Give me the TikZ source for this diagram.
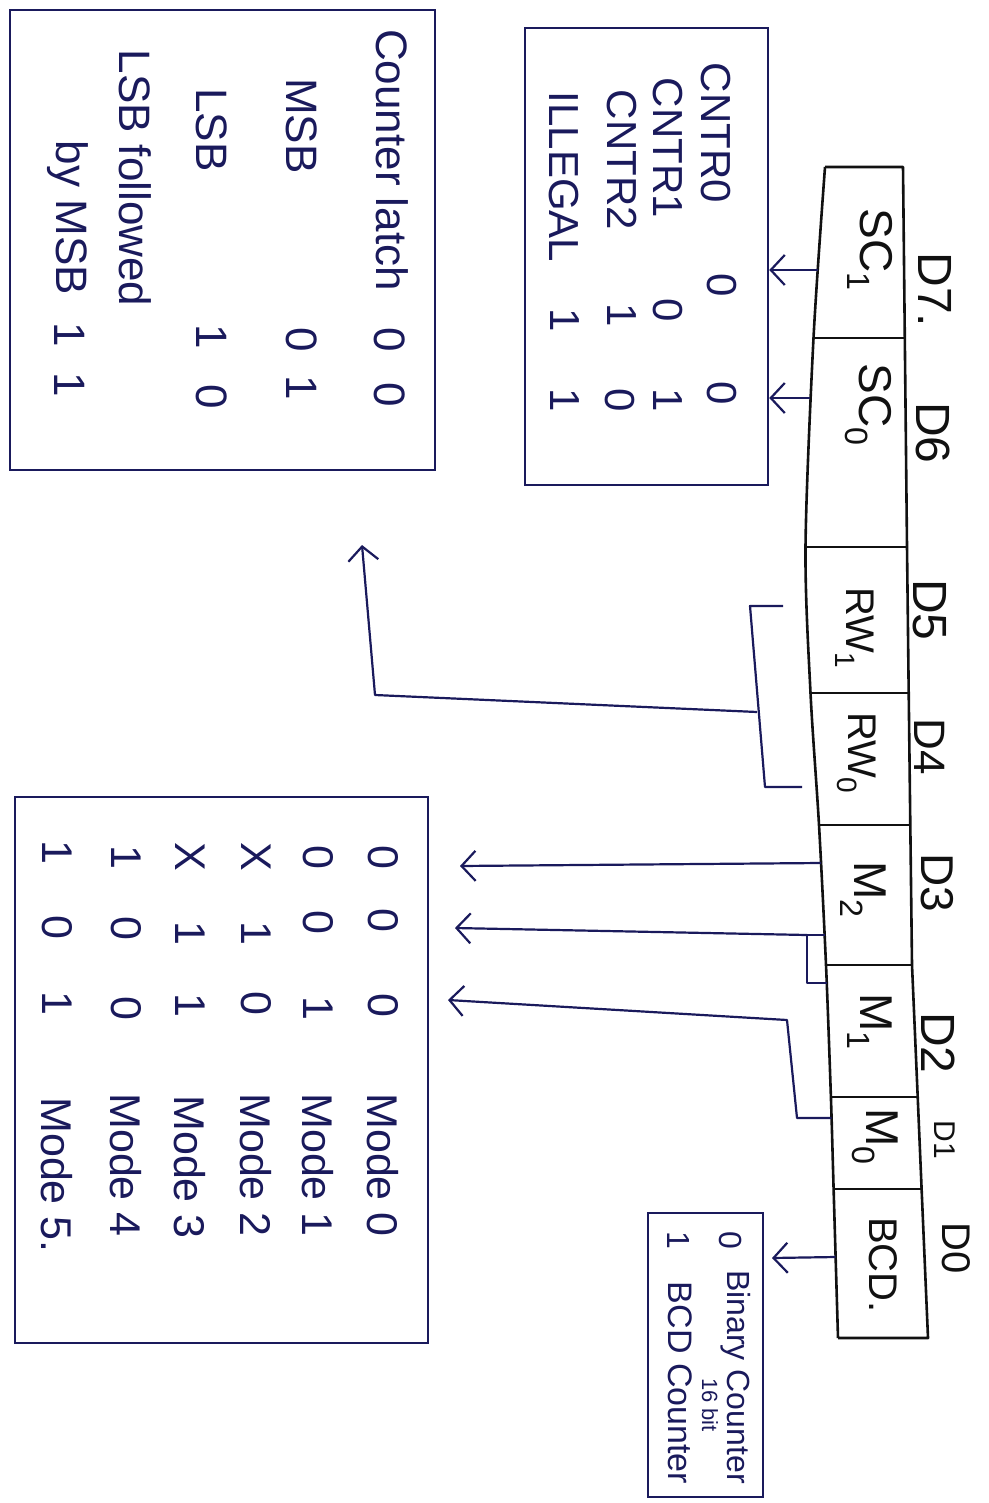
\documentclass[tikz,border=0pt]{standalone}
\usepackage{fontspec}
\setmainfont{Liberation Sans}
\usetikzlibrary{arrows.meta}
\definecolor{ink}{HTML}{1A1A5C}
\definecolor{pen}{HTML}{111111}
\newcommand\hsz[1]{\fontsize{#1}{#1}\selectfont}
\begin{document}
\begin{tikzpicture}[x=1pt,y=-1pt,
  lbl/.style={rotate=-90, inner sep=0pt, text=ink},
  slbl/.style={rotate=-90, inner sep=0pt, text=pen},
  boxst/.style={draw=ink, line width=2.5pt, inner sep=0pt},
  wire/.style={draw=ink, line width=2.2pt, line join=round},
  arr/.style={wire, -{Straight Barb[length=14pt,width=30pt,line width=2.2pt]}},
  strip/.style={draw=pen, line width=2.6pt, line join=round}]
\useasboundingbox (0,0) rectangle (988,1503);
\fill[white] (0,0) rectangle (988,1503);

% ---------- boxes ----------
\node[boxst, minimum width=425pt, minimum height=460pt] (latch) at (222.5,240) {};
\node[boxst, minimum width=243pt, minimum height=457pt] (cntr) at (646.5,256.5) {};
\node[boxst, minimum width=413pt, minimum height=546pt] (mode) at (221.5,1070) {};
\node[boxst, minimum width=115pt, minimum height=284pt] (bin) at (705.5,1355) {};

% ---------- register strip ----------
\coordinate (s0l) at (825,167);   \coordinate (s0r) at (903,167);
\coordinate (s1l) at (813.5,338); \coordinate (s1r) at (904.8,338);
\coordinate (s2l) at (805.5,547); \coordinate (s2r) at (907,547);
\coordinate (s3l) at (810.5,693); \coordinate (s3r) at (908.7,693);
\coordinate (s4l) at (819,825);   \coordinate (s4r) at (910.3,825);
\coordinate (s5l) at (826,965);   \coordinate (s5r) at (912,965);
\coordinate (s6l) at (830.9,1097);\coordinate (s6r) at (917.7,1097);
\coordinate (s7l) at (833.6,1189);\coordinate (s7r) at (921.6,1189);
\coordinate (s8l) at (838,1338);  \coordinate (s8r) at (928,1338);
\draw[strip] plot[smooth, tension=0.5] coordinates {(825,167) (813.5,338) (805.5,547) (810.5,693) (819,825) (826,965) (830.9,1097) (833.6,1189) (838,1338)};
\draw[strip] (s0l) -- (s0r) -- (s1r) -- (s2r) -- (s3r) -- (s4r) -- (s5r) -- (s6r) -- (s7r) -- (s8r) -- (s8l);
\foreach \i in {1,...,7} { \draw[strip] (s\i l) -- (s\i r); }

% cell labels
\node[slbl, font=\hsz{46}] (sc1) at (870,250) {SC\textsubscript{1}};
\node[slbl, font=\hsz{46}] (sc0) at (868,405) {SC\textsubscript{0}};
\node[slbl, font=\hsz{40}] (rw1) at (855,628) {RW\textsubscript{1}};
\node[slbl, font=\hsz{40}] (rw0) at (857,753) {RW\textsubscript{0}};
\node[slbl, font=\hsz{46}] (m2) at (863,890) {M\textsubscript{2}};
\node[slbl, font=\hsz{46}] (m1) at (870,1022) {M\textsubscript{1}};
\node[slbl, font=\hsz{46}] (m0) at (875,1137) {M\textsubscript{0}};
\node[slbl, font=\hsz{40}] (bcd) at (883,1265) {BCD.};

% bit labels
\node[slbl, font=\hsz{48}] (d7) at (935,290) {D7.};
\node[slbl, font=\hsz{48}] (d6) at (933,433) {D6};
\node[slbl, font=\hsz{48}] (d5) at (930,610) {D5};
\node[slbl, font=\hsz{44}] (d4) at (930,747) {D4};
\node[slbl, font=\hsz{46}] (d3) at (937,883) {D3};
\node[slbl, font=\hsz{48}] (d2) at (938,1043) {D2};
\node[slbl, font=\hsz{30}] (d1) at (945,1140) {D1};
\node[slbl, font=\hsz{40}] (d0) at (956,1248) {D0};

% ---------- connection points ----------
\coordinate (pSC1) at (818,270);
\coordinate (pSC0) at (810,398);
\coordinate (pM2) at (821,863);
\coordinate (pM1a) at (825,935);
\coordinate (pM1b) at (827,983);
\coordinate (pM0) at (831.5,1118);
\coordinate (pBCD) at (835.6,1257);

% SC arrows
\draw[arr] (pSC1) -- (pSC1 -| cntr.east);
\draw[arr] (pSC0) -- (pSC0 -| cntr.east);

% RW bracket and arrow
\coordinate (rwa) at (783,606);
\coordinate (rwb) at (750,606);
\coordinate (rwc) at (765,787);
\coordinate (rwd) at (802,787);
\coordinate (rwm) at (757,712);
\coordinate (rwk) at (375,695);
\coordinate (rwtip) at (362,545);
\draw[wire] (rwa) -- (rwb) -- (rwc) -- (rwd);
\draw[arr] (rwm) -- (rwk) -- (rwtip);

% mode arrows
\coordinate (tM2) at (460,866);
\coordinate (tM1) at (455,928);
\coordinate (tM0) at (448,1000);
\coordinate (bM1) at (807,935);
\coordinate (bM1b) at (807,983);
\coordinate (bM0a) at (797,1118);
\coordinate (bM0b) at (787,1020);
\draw[arr] (pM2) -- (tM2);
\draw[wire] (pM1a) -- (bM1) -- (bM1b) -- (pM1b);
\draw[arr] (bM1) -- (tM1);
\draw[arr] (pM0) -- (bM0a) -- (bM0b) -- (tM0);

% BCD arrow
\coordinate (tBCD) at (772,1258);
\draw[arr] (pBCD) -- (tBCD);

% ---------- Counter latch box text ----------
\begin{scope}[every node/.style={lbl, font=\hsz{44}}]
\node (cl) at (392,160) {Counter latch};
\node (cla) at (390,340) {0};
\node (clb) at (390,395) {0};
\node (msb) at (302,126) {MSB};
\node (msba) at (302,340) {0};
\node (msbb) at (302,388) {1};
\node (lsb) at (212,130) {LSB};
\node (lsba) at (212,337) {1};
\node (lsbb) at (212,397) {0};
\node (lf) at (135,178) {LSB followed};
\node (bm) at (68,218) {by MSB};
\node (bma) at (70,335) {1};
\node (bmb) at (70,385) {1};
\end{scope}

% ---------- CNTR box text ----------
\begin{scope}[every node/.style={lbl, font=\hsz{42}}]
\node (c0) at (716,133) {CNTR0};
\node (c0a) at (722,285) {0};
\node (c0b) at (722,393) {0};
\node (c1) at (668,148) {CNTR1};
\node (c1a) at (668,310) {0};
\node (c1b) at (668,400) {1};
\node (c2) at (622,160) {CNTR2};
\node (c2a) at (622,315) {1};
\node (c2b) at (620,400) {0};
\node (il) at (564,177) {ILLEGAL};
\node (ila) at (565,320) {1};
\node (ilb) at (565,400) {1};
\end{scope}

% ---------- Mode box text ----------
\begin{scope}[every node/.style={lbl, font=\hsz{43}}]
\node (r0a) at (383,857) {0}; \node (r0b) at (383,920) {0}; \node (r0c) at (383,1005) {0}; \node (r0) at (383,1165) {Mode 0};
\node (r1a) at (318,857) {0}; \node (r1b) at (318,922) {0}; \node (r1c) at (318,1008) {1}; \node (r1) at (318,1165) {Mode 1};
\node (r2a) at (256,857) {X}; \node (r2b) at (256,933) {1}; \node (r2c) at (256,1003) {0}; \node (r2) at (256,1165) {Mode 2};
\node (r3a) at (190,857) {X}; \node (r3b) at (190,933) {1}; \node (r3c) at (190,1005) {1}; \node (r3) at (190,1167) {Mode 3};
\node (r4a) at (126,857) {1}; \node (r4b) at (126,928) {0}; \node (r4c) at (126,1008) {0}; \node (r4) at (126,1165) {Mode 4};
\node (r5a) at (57,852) {1}; \node (r5b) at (57,927) {0}; \node (r5c) at (57,1003) {1}; \node (r5) at (57,1175) {Mode 5.};
\end{scope}

% ---------- Binary box text ----------
\node[lbl, font=\hsz{32}] (b0) at (731,1240) {0};
\node[lbl, font=\hsz{32}] (bc) at (736,1377) {Binary Counter};
\node[lbl, font=\hsz{22}] (b16) at (710,1405) {16 bit};
\node[lbl, font=\hsz{32}] (b1) at (678,1240) {1};
\node[lbl, font=\hsz{34}] (bb) at (680,1383) {BCD Counter};
\end{tikzpicture}
\end{document}
